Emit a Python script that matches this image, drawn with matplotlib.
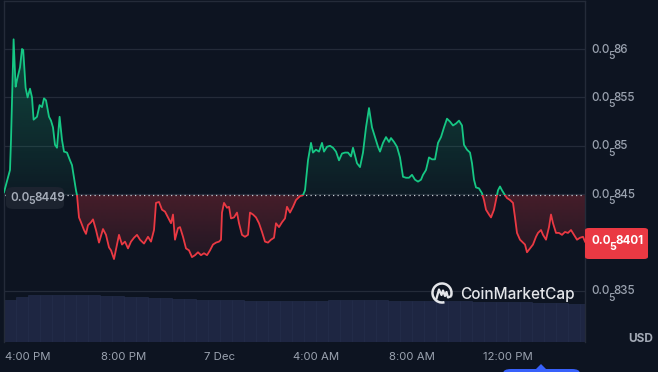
import numpy as np
import matplotlib
matplotlib.use('Agg')
import matplotlib.pyplot as plt
from matplotlib.patches import FancyBboxPatch, Rectangle, Arc, Polygon, Circle
from matplotlib.path import Path

plt.rcParams['font.family'] = ['Inter', 'DejaVu Sans']

# minutes since 3:00 PM (6 Dec) and price in units of 1e-5 USD
minutes = [0, 15, 17.5, 24, 29, 32.5, 40, 45, 48, 54, 59, 65, 70, 74, 82.5, 89, 95, 100, 105,
           112.5, 117.5, 122.5, 127.5, 132.5, 139, 145, 150, 157.5, 165, 170, 180, 182.5,
           187.5, 192.5, 200, 205, 210, 217.5, 222.5, 230, 237.5, 247.5, 255, 262.5, 267.5,
           275, 282.5, 287.5, 295, 302.5, 310, 317.5, 325, 332.5, 340, 350, 360, 367.5, 375,
           380, 387.5, 395, 402.5, 410, 417.5, 422.5, 427.5, 435, 440, 447.5, 455, 462.5,
           470, 477.5, 485, 492.5, 500, 507.5, 515, 522.5, 530, 537.5, 542.5, 545, 550,
           557.5, 562.5, 567.5, 575, 582.5, 587.5, 595, 602.5, 610, 615, 622.5, 630, 637.5,
           645, 652.5, 660, 667.5, 675, 680, 687.5, 695, 702.5, 707.5, 715, 722.5, 730, 740,
           747.5, 752.5, 760, 767.5, 772.5, 780, 787.5, 795, 800, 807.5, 815, 822.5, 830,
           837.5, 845, 852.5, 860, 867.5, 872.5, 877.5, 882.5, 890, 897.5, 905, 912.5, 920,
           927.5, 935, 940, 947.5, 955, 962.5, 967.5, 975, 982.5, 990, 997.5, 1005, 1012.5,
           1020, 1027.5, 1035, 1042.5, 1047.5, 1055, 1062.5, 1070, 1077.5, 1085, 1092.5,
           1100, 1107.5, 1115, 1122.5, 1130, 1137.5, 1145, 1150, 1157.5, 1165, 1170, 1175,
           1180, 1187.5, 1195, 1200, 1205, 1212.5, 1217.5, 1225, 1230, 1235, 1240, 1245,
           1252.5, 1257.5, 1265, 1272.5, 1277.5, 1282.5, 1290, 1295, 1302.5, 1307.5, 1315,
           1322.5, 1330, 1335, 1342.5, 1347.5, 1355, 1362.5, 1367.5, 1372.5, 1380, 1387.5,
           1395, 1402.5, 1410, 1417.5, 1425, 1432.5, 1440, 1447.5, 1452.5]
price = [0.8452, 0.8475, 0.8506, 0.8610, 0.8561, 0.8568, 0.8581, 0.8600, 0.8599, 0.8560,
         0.8550, 0.8559, 0.8550, 0.8527, 0.8530, 0.8542, 0.8540, 0.8549, 0.8547, 0.8530,
         0.8526, 0.8519, 0.8501, 0.8498, 0.8530, 0.8506, 0.8494, 0.8493, 0.8485, 0.8480,
         0.8454, 0.8449, 0.8426, 0.8421, 0.8413, 0.8409, 0.8418, 0.8421, 0.8424, 0.8413,
         0.8400, 0.8414, 0.8408, 0.8395, 0.8392, 0.8383, 0.8398, 0.8408, 0.8398, 0.8401,
         0.8394, 0.8401, 0.8405, 0.8408, 0.8403, 0.8399, 0.8406, 0.8401, 0.8413, 0.8441,
         0.8442, 0.8434, 0.8432, 0.8426, 0.8420, 0.8429, 0.8403, 0.8415, 0.8416, 0.8406,
         0.8394, 0.8392, 0.8385, 0.8387, 0.8390, 0.8387, 0.8389, 0.8387, 0.8392, 0.8398,
         0.8400, 0.8401, 0.8403, 0.8431, 0.8441, 0.8436, 0.8437, 0.8425, 0.8426, 0.8431,
         0.8420, 0.8408, 0.8406, 0.8408, 0.8431, 0.8429, 0.8426, 0.8420, 0.8411, 0.8401,
         0.8400, 0.8403, 0.8405, 0.8420, 0.8416, 0.8421, 0.8425, 0.8437, 0.8431, 0.8437,
         0.8444, 0.8448, 0.8449, 0.8454, 0.8485, 0.8503, 0.8493, 0.8496, 0.8494, 0.8503,
         0.8494, 0.8499, 0.8500, 0.8498, 0.8494, 0.8485, 0.8492, 0.8493, 0.8493, 0.8489,
         0.8498, 0.8490, 0.8482, 0.8478, 0.8493, 0.8519, 0.8539, 0.8519, 0.8509, 0.8499,
         0.8494, 0.8503, 0.8509, 0.8504, 0.8508, 0.8504, 0.8499, 0.8488, 0.8468, 0.8467,
         0.8467, 0.8470, 0.8465, 0.8463, 0.8465, 0.8470, 0.8475, 0.8488, 0.8486, 0.8486,
         0.8503, 0.8509, 0.8519, 0.8528, 0.8525, 0.8521, 0.8523, 0.8526, 0.8521, 0.8501,
         0.8496, 0.8493, 0.8482, 0.8465, 0.8457, 0.8456, 0.8451, 0.8444, 0.8434, 0.8429,
         0.8426, 0.8434, 0.8444, 0.8454, 0.8458, 0.8454, 0.8449, 0.8446, 0.8444, 0.8441,
         0.8426, 0.8410, 0.8403, 0.8401, 0.8398, 0.8390, 0.8394, 0.8398, 0.8406, 0.8410,
         0.8413, 0.8408, 0.8403, 0.8416, 0.8429, 0.8420, 0.8410, 0.8410, 0.8408, 0.8411,
         0.8410, 0.8413, 0.8408, 0.8403, 0.8405, 0.8406, 0.8401]

# 30-minute volume bars (relative units)
vol_minutes = list(range(0, 1441, 30))
volume = [4.2, 4.5, 4.7, 4.7, 4.7, 4.7, 4.7, 4.7, 4.6, 4.6, 4.5, 4.5, 4.4, 4.4, 4.3, 4.3,
          4.2, 4.2, 4.2, 4.2, 4.1, 4.1, 4.1, 4.1, 4.1, 4.1, 4.1, 4.2, 4.2, 4.2, 4.2, 4.2,
          4.1, 4.1, 4.1, 4.1, 4.1, 4.1, 4.1, 4.0, 4.0, 4.0, 4.0, 4.0, 3.9, 3.9, 3.9, 3.8, 3.8]

open_price = 0.8449
last_price = 0.8401
y_ticks = [0.835, 0.845, 0.85, 0.855, 0.86]
x_ticks = [60, 300, 540, 780, 1020, 1260]
x_labels = ['4:00 PM', '8:00 PM', '7 Dec', '4:00 AM', '8:00 AM', '12:00 PM']

BG = '#0d1421'
GREEN = '#16c784'
RED = '#ea3943'
GRID = '#242b39'
TXT = '#9aa2af'

W, H = 658, 372
fig = plt.figure(figsize=(W / 100, H / 100), dpi=100, facecolor=BG)
renderer = fig.canvas.get_renderer()


def fx(px):
    return px / W


def fy(py):
    return 1 - py / H


def price_text(x, base, value, size, sub_size, drop, color, weight):
    # CoinMarketCap style "0.0<sub>5</sub>digits"; x, base in pixels
    digits = ('%.4f' % value).rstrip('0')[2:]
    parts = [('0.0', size, 0), ('5', sub_size, drop), (digits, size, 0)]
    cx = x
    for s, fs, dy in parts:
        t = fig.text(fx(cx), fy(base + dy), s, fontsize=fs, color=color, fontweight=weight,
                     ha='left', va='baseline', zorder=6)
        cx += t.get_window_extent(renderer).width - 1.0


pos = [fx(4), fy(342), fx(585) - fx(4), fy(1) - fy(342)]
x0, x1 = 0, 1452.5
ylo, yhi = 0.829731, 0.864959

# volume
axv = fig.add_axes(pos)
axv.set_facecolor(BG)
axv.bar(vol_minutes, volume, width=30, align='edge', color='#1e2642',
        edgecolor='#262f4e', linewidth=0.4)
axv.set_xlim(x0, x1)
axv.set_ylim(0, max(volume) * 341 / 47)
axv.axis('off')

ax = fig.add_axes(pos)
ax.patch.set_alpha(0)
ax.set_xlim(x0, x1)
ax.set_ylim(ylo, yhi)

x = np.array(minutes)
y = np.array(price)


def grad_fill(where, c, a_top, a_bot, ytop, ybot):
    coll = ax.fill_between(x, y, open_price, where=where, interpolate=True,
                           facecolor='none', edgecolor='none')
    clip = Path.make_compound_path(*coll.get_paths())
    rgb = matplotlib.colors.to_rgb(c)
    n = 256
    img = np.zeros((n, 1, 4))
    img[:, 0, :3] = rgb
    img[:, 0, 3] = np.linspace(a_top, a_bot, n)
    im = ax.imshow(img, aspect='auto', extent=[x0, x1, ybot, ytop], origin='upper',
                   interpolation='bilinear', zorder=1)
    im.set_clip_path(clip, transform=ax.transData)


grad_fill(y >= open_price, GREEN, 0.30, 0.04, y.max(), open_price)
grad_fill(y <= open_price, RED, 0.26, 0.09, open_price, y.min())
ax.set_xlim(x0, x1)
ax.set_ylim(ylo, yhi)

lg, = ax.plot(x, y, color=GREEN, lw=1.3, zorder=3)
lg.set_clip_path(Rectangle((x0, open_price), x1 - x0, 1, transform=ax.transData))
lr, = ax.plot(x, y, color=RED, lw=1.3, zorder=3)
lr.set_clip_path(Rectangle((x0, open_price - 1), x1 - x0, 1, transform=ax.transData))

ax.axhline(open_price, color='#c9cdd5', lw=0.9, ls=(0, (1, 2.6)), zorder=2)

ax.set_yticks(y_ticks)
ax.set_yticklabels([])
ax.yaxis.tick_right()
ax.grid(axis='y', color=GRID, lw=0.9)
ax.set_axisbelow(True)
ax.set_xticks(x_ticks)
ax.set_xticklabels(x_labels)
ax.tick_params(length=0, labelsize=8.2, labelcolor=TXT)
ax.tick_params(axis='x', pad=7)
for s in ['top', 'left', 'right']:
    ax.spines[s].set_color(GRID)
    ax.spines[s].set_linewidth(1)
ax.spines['bottom'].set_visible(False)

# right axis price labels with the subscript zero count
for v in y_ticks:
    gy = H - ax.transData.transform((0, v))[1]
    price_text(591, gy + 3.5, v, 8.4, 7.6, 6.5, TXT, 'medium')

# open price tag on the left
fig.patches.append(FancyBboxPatch((fx(6), fy(209)), fx(64) - fx(6), fy(187) - fy(209),
                                  boxstyle='round,pad=0,rounding_size=0.012',
                                  transform=fig.transFigure, facecolor='#1c232f',
                                  edgecolor='none', zorder=5))
price_text(10, 201, open_price, 8.4, 7.6, 3, '#a6adb9', 'semibold')

# last price tag on the right
fig.patches.append(FancyBboxPatch((fx(585), fy(259)), fx(648) - fx(585), fy(228) - fy(259),
                                  boxstyle='round,pad=0,rounding_size=0.006',
                                  transform=fig.transFigure, facecolor=RED,
                                  edgecolor='none', zorder=5))
price_text(591, 243.5, last_price, 8.4, 7.6, 6, 'white', 'bold')

# watermark
axl = fig.add_axes([fx(431), fy(304), fx(453) - fx(431), fy(282) - fy(304)])
axl.set_xlim(-1.1, 1.1)
axl.set_ylim(-1.1, 1.1)
axl.axis('off')
axl.add_patch(Arc((0, 0), 1.9, 1.9, theta1=-20, theta2=285, color='#e4e6ea', lw=1.8))
axl.plot([-0.55, -0.3, -0.05, 0.1, 0.3, 0.45, 0.6, 0.85],
         [-0.55, 0.35, -0.2, 0.25, -0.3, 0.1, -0.45, -0.35], color='#e4e6ea', lw=1.6,
         solid_joinstyle='round')
fig.text(fx(460), fy(295), 'CoinMarketCap', ha='left', va='center', fontsize=11,
         color='#e4e6ea', fontweight='medium')

fig.text(fx(641), fy(339), 'USD', ha='center', va='center', fontsize=8.5,
         color='#a3aab6', fontweight='bold')

# partly hidden controls at the bottom edge
fig.patches.append(Circle((fx(25), fy(381)), 13 / W, transform=fig.transFigure,
                          facecolor='#3a404d', edgecolor='none'))
fig.patches.append(FancyBboxPatch((fx(503), fy(385)), fx(580) - fx(503), fy(369) - fy(385),
                                  boxstyle='round,pad=0,rounding_size=0.012',
                                  transform=fig.transFigure, facecolor='#3861fb',
                                  edgecolor='none'))
fig.patches.append(Polygon([(fx(535), fy(370)), (fx(541), fy(364)), (fx(547), fy(370))],
                           closed=True, transform=fig.transFigure, facecolor='#3861fb',
                           edgecolor='none'))

fig.savefig('out.png', dpi=100, facecolor=BG)
